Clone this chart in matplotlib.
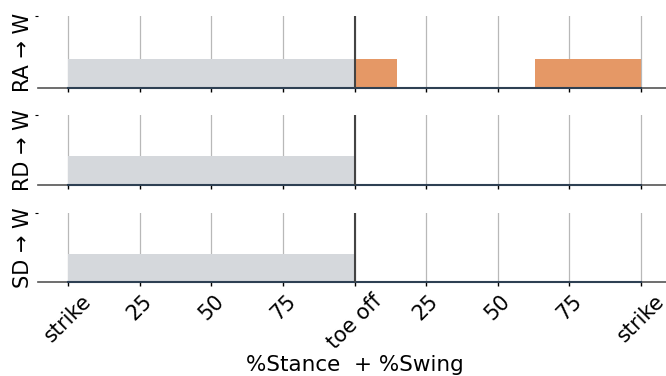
import matplotlib
matplotlib.use("Agg")
import matplotlib.pyplot as plt

labels = ["RA → W", "RD → W", "SD → W"]
tick_pos = [0, 25, 50, 75, 100, 125, 150, 175, 200]
tick_labels = ["strike", "25", "50", "75", "toe off", "25", "50", "75", "strike"]

# stance bars (grey): start, end, height
stance_start = [0, 0, 0]
stance_end = [100, 100, 100]
stance_height = [0.4, 0.41, 0.4]

# swing bars (orange) per row: list of (start, end)
swing_bars = [[(100, 115), (163, 200)], [], []]
swing_height = 0.4

fig = plt.figure(figsize=(6.66, 3.76), dpi=100)
positions = [(0.957, 0.766), (0.694, 0.508), (0.434, 0.25)]
left = 38 / 666
right = 671 / 666
axes = []
for i, (top, bot) in enumerate(positions):
    ax = fig.add_axes([left, bot, right - left, top - bot])
    axes.append(ax)
    ax.set_xlim(-10.5, 210.5)
    ax.set_ylim(0, 1)
    ax.set_xticks(tick_pos)
    ax.grid(axis="x", color="#b8b8b8", lw=0.9, zorder=0)
    ax.bar(stance_start[i], stance_height[i], width=stance_end[i] - stance_start[i],
           align="edge", color="#d5d8dc", zorder=2)
    for s, e in swing_bars[i]:
        ax.bar(s, swing_height, width=e - s, align="edge", color="#e59866", zorder=2)
    ax.plot([0, 200], [0, 0], color="#2e4053", lw=1.5, zorder=3, clip_on=False)
    ax.axvline(100, color="#444444", lw=1.5, zorder=4)
    for sp in ["top", "right", "left"]:
        ax.spines[sp].set_visible(False)
    ax.spines["bottom"].set_color("#555555")
    ax.spines["bottom"].set_linewidth(1.2)
    ax.set_yticks([1])
    ax.set_yticklabels([""])
    ax.tick_params(axis="y", length=2, width=0.8)
    ax.tick_params(axis="x", length=3, width=1)
    ax.set_ylabel(labels[i], fontsize=15, labelpad=-2)
    if i < 2:
        ax.set_xticklabels([])
    else:
        ax.set_xticklabels(tick_labels, rotation=45, fontsize=15)
        ax.set_xlabel("%Stance  + %Swing", fontsize=15.5, labelpad=1)

fig.savefig("out.png", dpi=100)
